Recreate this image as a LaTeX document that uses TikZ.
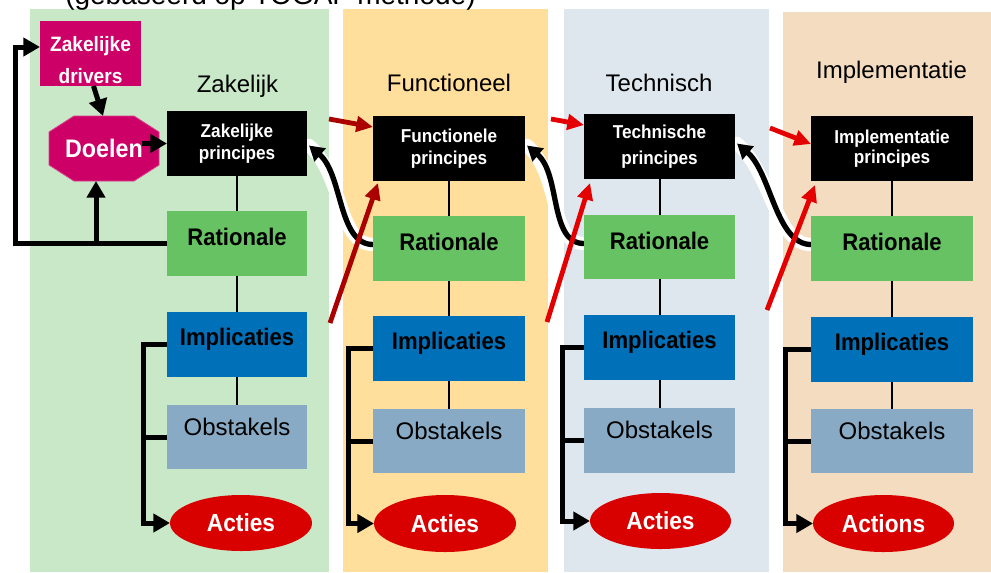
\documentclass[tikz,border=0pt]{standalone}
\usepackage{fontspec}
\setmainfont{Liberation Sans}
\newfontfamily\nbf{Liberation Sans}[FakeStretch=0.92]
\usetikzlibrary{arrows.meta,calc,shapes.geometric}
\pgfdeclarelayer{bg}\pgfdeclarelayer{mid}\pgfsetlayers{bg,mid,main}
\definecolor{colgreen}{RGB}{200,232,200}
\definecolor{colorange}{RGB}{255,223,155}
\definecolor{colblue}{RGB}{222,230,238}
\definecolor{colpeach}{RGB}{243,220,192}
\definecolor{ratgreen}{RGB}{102,194,98}
\definecolor{impblue}{RGB}{0,112,184}
\definecolor{obsgrey}{RGB}{136,170,196}
\definecolor{actred}{RGB}{217,0,0}
\definecolor{mag}{RGB}{204,0,102}
\definecolor{dred}{RGB}{170,0,0}
\definecolor{bred}{RGB}{228,0,0}
\begin{document}
\begin{tikzpicture}[x=0.75pt,y=-0.75pt,
  boxst/.style={rectangle, inner sep=0pt, outer sep=0pt},
  sz/.style 2 args={minimum width=#1*0.75pt, minimum height=#2*0.75pt},
  prin/.style={boxst, fill=black, text=white, align=center, font=\nbf\bfseries\fontsize{14}{16.5}\selectfont},
  ratb/.style={boxst, fill=ratgreen},
  impb/.style={boxst, fill=impblue},
  obsb/.style={boxst, fill=obsgrey},
  actb/.style={ellipse, inner sep=0pt, outer sep=0pt, fill=actred, text=white, font=\nbf\bfseries\fontsize{18.5}{20}\selectfont},
  blbl/.style={anchor=base, inner sep=0pt, font=\nbf\bfseries\fontsize{18}{20}\selectfont},
  rlbl/.style={anchor=base, inner sep=0pt, font=\fontsize{18}{20}\selectfont},
  coltitle/.style={anchor=base, inner sep=0pt, font=\fontsize{18}{20}\selectfont},
  thinln/.style={line width=1.5pt},
  bkarr/.style={line width=3.75pt, -{Triangle[length=12.5pt,width=13.5pt]}},
  bkln/.style={line width=3.75pt},
  curvarr/.style={line width=4pt, -{Triangle[length=11pt,width=12.5pt]}},
  halo/.style={line width=10pt, white, line cap=round},
  rdarr/.style={line width=3.6pt, -{Triangle[length=12.5pt,width=11.5pt]}}
]
\useasboundingbox (0,0) rectangle (991,572);
% columns
\begin{pgfonlayer}{bg}
  \fill[white] (0,0) rectangle (991,572);
  \fill[colgreen] (30,9) rectangle (329,572);
  \fill[colorange] (343,9) rectangle (548,572);
  \fill[colblue] (564,9) rectangle (769,572);
  \fill[colpeach] (783,12) rectangle (991,572);
\end{pgfonlayer}
% header (cut off at the top)
\node[anchor=base west, inner sep=0pt, font=\fontsize{21}{24}\selectfont] (hdr) at (65,4) {(gebaseerd op TOGAF methode)};
% column titles
\node[coltitle] (t1) at (237.5,92.5) {Zakelijk};
\node[coltitle] (t2) at (449,91) {Functioneel};
\node[coltitle] (t3) at (659,91) {Technisch};
\node[coltitle] (t4) at (891.5,78) {Implementatie};
% drivers and goals
\node[boxst, fill=mag, sz={101}{65}] (drv) at (90.5,53.5) {};
\node[blbl, text=white, font=\nbf\bfseries\fontsize{15.6}{18}\selectfont] (drvt1) at (90.5,51) {Zakelijke};
\node[blbl, text=white, font=\nbf\bfseries\fontsize{15.6}{18}\selectfont] (drvt2) at (90.5,83) {drivers};
\filldraw[fill=mag, draw=mag!75!white, line width=0.6pt] (74,116) -- (134,116) -- (159,132) -- (159,165) -- (134,181) -- (74,181) -- (49,165) -- (49,132) -- cycle;
\node[boxst, sz={110}{65}, text=white, font=\nbf\bfseries\fontsize{19}{20}\selectfont] (doelen) at (104,148.5) {Doelen};
% column 1
\node[prin, sz={140}{65}] (zp) at (237,143.5) {Zakelijke\\principes};
\node[ratb, sz={140}{65}] (r1) at (237,243.5) {};
\node[blbl] (r1t) at (237,245) {Rationale};
\node[impb, sz={140}{65}] (i1) at (237,344.5) {};
\node[blbl] (i1t) at (237,345) {Implicaties};
\node[obsb, sz={140}{64}] (o1) at (237,437) {};
\node[rlbl] (o1t) at (237,435) {Obstakels};
\node[actb, sz={142}{56}] (a1) at (241,523) {Acties};
% column 2
\node[prin, sz={152}{65}] (fp) at (449,148.5) {Functionele\\principes};
\node[ratb, sz={152}{65}] (r2) at (449,248.5) {};
\node[blbl] (r2t) at (449,250) {Rationale};
\node[impb, sz={152}{65}] (i2) at (449,348.5) {};
\node[blbl] (i2t) at (449,349) {Implicaties};
\node[obsb, sz={152}{64}] (o2) at (449,441) {};
\node[rlbl] (o2t) at (449,439) {Obstakels};
\node[actb, sz={142}{57}] (a2) at (445,523.5) {Acties};
% column 3
\node[prin, sz={151}{65}, font=\nbf\bfseries\fontsize{14}{19.5}\selectfont] (tp) at (659.5,146.5) {Technische\\principes};
\node[ratb, sz={151}{64}] (r3) at (659.5,247) {};
\node[blbl] (r3t) at (659.5,249) {Rationale};
\node[impb, sz={151}{65}] (i3) at (659.5,347.5) {};
\node[blbl] (i3t) at (659.5,348) {Implicaties};
\node[obsb, sz={151}{65}] (o3) at (659.5,440.5) {};
\node[rlbl] (o3t) at (659.5,438) {Obstakels};
\node[actb, sz={141}{56}] (a3) at (660.5,521) {Acties};
% column 4
\node[prin, sz={162}{65}, font=\nbf\bfseries\fontsize{14}{15.5}\selectfont] (ip) at (892,148.5) {Implementatie\\principes};
\node[ratb, sz={162}{65}] (r4) at (892,248.5) {};
\node[blbl] (r4t) at (892,250) {Rationale};
\node[impb, sz={162}{65}] (i4) at (892,349.5) {};
\node[blbl] (i4t) at (892,350) {Implicaties};
\node[obsb, sz={162}{64}] (o4) at (892,441) {};
\node[rlbl] (o4t) at (892,439) {Obstakels};
\node[actb, sz={141}{57}] (a4) at (883.5,523.5) {Actions};
% thin links
\foreach \p/\r/\i/\o in {zp/r1/i1/o1, fp/r2/i2/o2, tp/r3/i3/o3, ip/r4/i4/o4}{
  \draw[thinln] (\p) -- (\r);
  \draw[thinln] (\r) -- (\i);
  \draw[thinln] (\i) -- (\o);
}
% feedback loop in column 1
\coordinate (lx) at (15,0);
\coordinate (dl) at ($(drv.west)+(0,-6.5)$);
\draw[bkarr] (r1.west) -- (r1.west -| lx) -- (dl -| lx) -- (dl);
\coordinate (jx) at (96,0);
\draw[bkarr] (r1.west -| jx) -- (doelen.south -| jx);
\draw[bkarr] ($(drv.south)+(3,0)$) -- ($(doelen.north)+(-1,0)$);
\draw[bkarr] ($(zp.west -| doelen.east)+(-17,0)$) -- (zp.west);
% brackets to actions
\coordinate (v1) at (143,0);
\coordinate (v2) at (348,0);
\coordinate (v3) at (562,0);
\coordinate (v4) at (785,0);
\foreach \i/\o/\a/\v in {i1/o1/a1/v1, i2/o2/a2/v2, i3/o3/a3/v3, i4/o4/a4/v4}{
  \draw[bkln] (\o.west) -- (\o.west -| \v);
  \draw[bkarr] (\i.west) -- (\i.west -| \v) -- (\a.west -| \v) -- (\a.west);
}
% curved feedback arrows between columns
\coordinate (c1s) at ($(r2.west)+(0,-4)$);
\coordinate (c1e) at ($(zp.east)+(2,2)$);
\coordinate (c2s) at ($(r3.west)+(0,-3.5)$);
\coordinate (c2e) at ($(fp.east)+(2,-3)$);
\coordinate (c3s) at ($(r4.west)+(0,-4)$);
\coordinate (c3e) at ($(tp.east)+(2,-3)$);
\begin{pgfonlayer}{mid}
  \foreach \s/\e in {c1s/c1e, c2s/c2e, c3s/c3e}{
    \draw[halo] (\s) .. controls ($(\s)+(-35,0)$) and ($(\e)+(34,29)$) .. (\e);
    \draw[curvarr] (\s) .. controls ($(\s)+(-35,0)$) and ($(\e)+(34,29)$) .. (\e);
  }
\end{pgfonlayer}
% red arrows
\coordinate (g1a) at (329,119);
\coordinate (g1b) at (330,323);
\coordinate (g2a) at (551,119);
\coordinate (g2b) at (547,322);
\coordinate (g3a) at (770,128);
\coordinate (g3b) at (767,310);
\draw[rdarr, dred] (g1a) -- ($(fp.north west)+(0,11)$);
\draw[rdarr, dred] (g1b) -- ($(fp.south west)+(5,2)$);
\draw[rdarr, bred] (g2a) -- ($(tp.north west)+(0,11)$);
\draw[rdarr, bred] (g2b) -- ($(tp.south west)+(6,4)$);
\draw[rdarr, bred] (g3a) -- ($(ip.north west)+(0,28)$);
\draw[rdarr, bred] (g3b) -- ($(ip.south west)+(4,4)$);
\end{tikzpicture}
\end{document}
